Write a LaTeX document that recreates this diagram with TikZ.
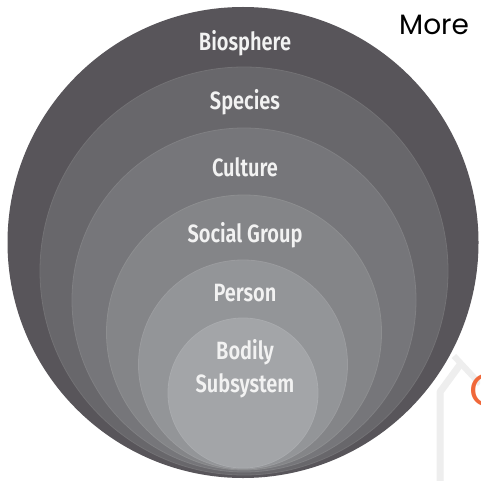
\documentclass[tikz,border=0pt]{standalone}
\usepackage{fontspec}
\newfontfamily\labfont[FakeStretch=0.8]{Fira Sans SemiBold}[BoldFont={Fira Sans Bold}]
\newfontfamily\morefont{Poppins}
\definecolor{cBio}{RGB}{88,85,90}
\definecolor{cSpe}{RGB}{104,103,107}
\definecolor{cCul}{RGB}{118,118,122}
\definecolor{cSoc}{RGB}{132,133,136}
\definecolor{cPer}{RGB}{147,149,152}
\definecolor{cBod}{RGB}{163,165,168}
\definecolor{cText}{RGB}{242,242,242}
\definecolor{cOrange}{RGB}{240,104,58}
\definecolor{cMark}{RGB}{238,238,238}
\begin{document}
\begin{tikzpicture}[x=1pt,y=-1pt,
  lab/.style={text=cText, font=\labfont\fontsize{25}{33}\selectfont, inner sep=0pt, align=center},
  ring/.style={line width=0.8pt}]
\useasboundingbox (0,0) rectangle (480,481);
\fill[white] (0,0) rectangle (480,481);
\begin{scope}
\clip (0,0) rectangle (480,481);
% faint watermark
\draw[cMark, line width=7pt, line join=round] (440,481) -- (440,392) -- (462,362);
\draw[cMark, line width=6pt] (454,356) -- (480,384);
% orange letter cut by the edge
\node[anchor=west, text=cOrange, font=\morefont\fontsize{46}{46}\selectfont, inner sep=0pt] (cl) at (469,390) {C};
% nested circles
\fill[cBio] (243,242.5) circle[radius=235.5];
\filldraw[cSpe, draw=cSpe!93!white, ring] (244,271) circle[radius=204];
\filldraw[cCul, draw=cCul!93!white, ring] (244,300) circle[radius=172];
\filldraw[cSoc, draw=cSoc!93!white, ring] (244,332.5) circle[radius=137.5];
\filldraw[cPer, draw=cPer!93!white, ring] (243,364.5) circle[radius=104.5];
\filldraw[cBod, draw=cBod!93!white, ring] (243,393) circle[radius=75];
\end{scope}
% labels
\node[lab] (bio) at (245,43) {Biosphere};
\node[lab] (spe) at (245,102) {Species};
\node[lab] (cul) at (245,167) {Culture};
\node[lab] (soc) at (245,235) {Social Group};
\node[lab] (per) at (245,293) {Person};
\node[lab] (bod) at (245,369) {Bodily\\Subsystem};
\node[anchor=west, font=\morefont\fontsize{28}{28}\selectfont, inner sep=0pt] (more) at (399,25) {More};
\end{tikzpicture}
\end{document}
